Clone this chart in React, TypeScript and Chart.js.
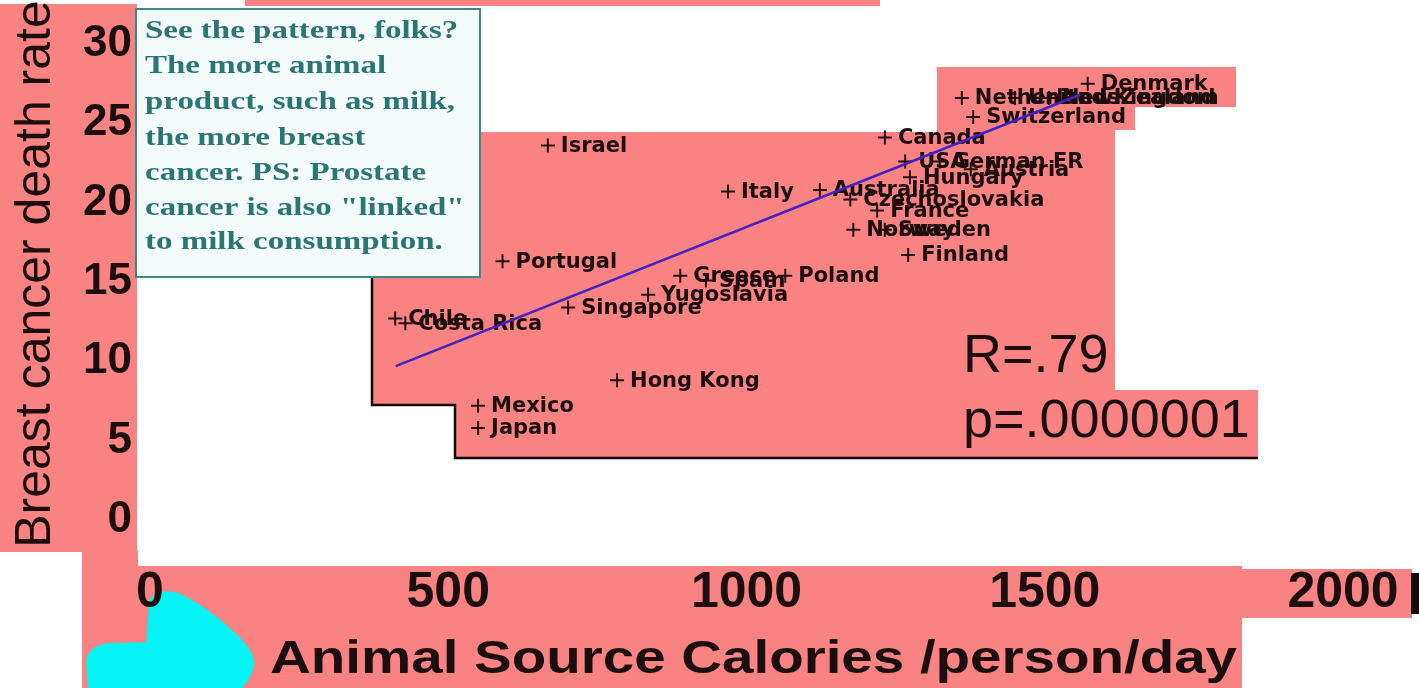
import React, { useEffect, useRef } from 'react';
import { Chart, registerables } from 'chart.js';

Chart.register(...registerables);

// ---------- data ----------
const countries = [
  'Israel', 'Italy', 'Portugal', 'Chile', 'Costa Rica', 'Singapore', 'Yugoslavia',
  'Greece', 'Spain', 'Poland', 'Hong Kong', 'Mexico', 'Japan', 'Canada', 'Australia',
  'Czechoslovakia', 'France', 'Norway', 'Sweden', 'Finland', 'Hungary', 'USA',
  'German FR', 'Austria', 'Netherlands', 'United Kingdom', 'New Zealand', 'Switzerland', 'Denmark',
];
const calories = [
  667, 969, 591, 411, 428, 701, 835,
  889, 932, 1065, 783, 550, 550, 1232, 1123,
  1174, 1219, 1179, 1232, 1271, 1274, 1266,
  1324, 1376, 1361, 1450, 1507, 1380, 1572,
];
const deathRates = [
  23.6, 20.7, 16.3, 12.7, 12.4, 13.4, 14.2,
  15.4, 15.1, 15.4, 8.8, 7.2, 5.8, 24.1, 20.8,
  20.2, 19.5, 18.3, 18.3, 16.7, 21.6, 22.6,
  22.6, 22.1, 26.6, 26.6, 26.6, 25.4, 27.5,
];
const trendX = [412, 1559];
const trendY = [9.7, 26.8];
const xTicks = [0, 500, 1000, 1500, 2000];
const yTicks = [0, 5, 10, 15, 20, 25, 30];
const xTitle = 'Animal Source Calories /person/day';
const yTitle = 'Breast cancer death rate';
const statLines = ['R=.79', 'p=.0000001'];
const noteLines = [
  'See the pattern, folks?',
  'The more animal',
  'product, such as milk,',
  'the more breast',
  'cancer. PS: Prostate',
  'cancer is also "linked"',
  'to milk consumption.',
];

// ---------- styles ----------
const PINK = '#F98383';
const INK = '#1c0e0e';
const SANS = "'Liberation Sans', Arial, sans-serif";

const decorPlugin = {
  id: 'decor',
  beforeDraw(chart: any) {
    const ctx = chart.ctx as CanvasRenderingContext2D;
    ctx.save();
    ctx.fillStyle = '#ffffff';
    ctx.fillRect(0, 0, chart.width, chart.height);
    ctx.fillStyle = PINK;
    ctx.fillRect(0, 4, 137, 548);
    ctx.fillRect(82, 550, 56, 138);
    ctx.fillRect(137, 566, 1105, 122);
    ctx.fillRect(1242, 569, 170, 49);
    ctx.fillRect(245, 0, 635, 6);
    const poly = [
      [372, 132], [937, 132], [937, 67], [1236, 67], [1236, 107], [1135, 107],
      [1135, 130], [1115, 130], [1115, 390], [1258, 390], [1258, 458],
      [455, 458], [455, 405], [372, 405],
    ];
    ctx.beginPath();
    poly.forEach(([x, y], i) => (i ? ctx.lineTo(x, y) : ctx.moveTo(x, y)));
    ctx.closePath();
    ctx.fill();
    // dark frame edges
    ctx.strokeStyle = '#140808';
    ctx.lineWidth = 2.5;
    ctx.beginPath();
    ctx.moveTo(372, 277);
    ctx.lineTo(372, 405);
    ctx.lineTo(455, 405);
    ctx.lineTo(455, 458);
    ctx.lineTo(1258, 458);
    ctx.stroke();
    ctx.fillStyle = '#140808';
    ctx.fillRect(1411, 573, 8, 41);
    // cyan pointer blob
    ctx.fillStyle = '#05F4F4';
    ctx.strokeStyle = '#05F4F4';
    ctx.lineJoin = 'round';
    ctx.lineWidth = 8;
    ctx.beginPath();
    ctx.moveTo(153, 602);
    ctx.quadraticCurveTo(160, 592, 178, 597);
    ctx.quadraticCurveTo(205, 610, 228, 632);
    ctx.quadraticCurveTo(252, 652, 250, 666);
    ctx.quadraticCurveTo(246, 680, 236, 688);
    ctx.lineTo(92, 688);
    ctx.lineTo(90, 662);
    ctx.quadraticCurveTo(92, 648, 112, 647);
    ctx.lineTo(150, 646);
    ctx.closePath();
    ctx.fill();
    ctx.stroke();
    ctx.restore();
  },
  afterDatasetDraw(chart: any, args: any) {
    if (args.index !== 1) return;
    const ctx = chart.ctx as CanvasRenderingContext2D;
    const meta = chart.getDatasetMeta(1);
    ctx.save();
    ctx.font = "bold 21px 'DejaVu Sans', sans-serif";
    ctx.fillStyle = INK;
    ctx.textBaseline = 'middle';
    ctx.textAlign = 'left';
    meta.data.forEach((pt: any, i: number) => {
      ctx.fillText(countries[i], pt.x + 13, pt.y + 1);
    });
    ctx.restore();
  },
  afterDraw(chart: any) {
    const ctx = chart.ctx as CanvasRenderingContext2D;
    ctx.save();
    // stats
    ctx.fillStyle = INK;
    ctx.font = `54px ${SANS}`;
    ctx.textBaseline = 'alphabetic';
    ctx.fillText(statLines[0], 963, 372);
    ctx.fillText(statLines[1], 963, 437);
    // x title
    ctx.font = `bold 46px ${SANS}`;
    const w = ctx.measureText(xTitle).width;
    ctx.save();
    ctx.translate(270, 673);
    ctx.scale(967 / w, 1);
    ctx.fillText(xTitle, 0, 0);
    ctx.restore();
    // y title
    ctx.save();
    ctx.font = `50px ${SANS}`;
    ctx.translate(50, 274);
    ctx.rotate(-Math.PI / 2);
    ctx.textAlign = 'center';
    ctx.fillText(yTitle, 0, 0);
    ctx.restore();
    // annotation box
    ctx.fillStyle = '#F3FBFB';
    ctx.fillRect(136, 9, 344, 268);
    ctx.strokeStyle = '#3F8787';
    ctx.lineWidth = 2;
    ctx.strokeRect(136, 9, 344, 268);
    ctx.fillStyle = '#2B7575';
    ctx.font = "bold 26px 'Liberation Serif', 'DejaVu Serif', serif";
    const ref = ctx.measureText(noteLines[2]).width;
    const sx = 310 / ref;
    const ys = [31, 66, 102, 138, 173, 208, 242];
    ctx.textBaseline = 'middle';
    noteLines.forEach((t, i) => {
      ctx.save();
      ctx.translate(145, ys[i]);
      ctx.scale(sx, 1);
      ctx.fillText(t, 0, 0);
      ctx.restore();
    });
    ctx.restore();
  },
};

export default function App() {
  const ref = useRef<HTMLCanvasElement>(null);
  useEffect(() => {
    const chart = new Chart(ref.current as HTMLCanvasElement, {
      type: 'scatter',
      data: {
        datasets: [
          {
            type: 'line',
            data: trendX.map((x, i) => ({ x, y: trendY[i] })),
            borderColor: '#4322C0',
            borderWidth: 2.5,
            pointRadius: 0,
            showLine: true,
            fill: false,
            clip: false,
          } as any,
          {
            data: countries.map((_, i) => ({ x: calories[i], y: deathRates[i] })),
            pointStyle: 'cross',
            pointRadius: 7,
            borderColor: '#221010',
            borderWidth: 2,
            backgroundColor: '#221010',
            clip: false,
          } as any,
        ],
      },
      options: {
        animation: false,
        responsive: false,
        layout: { padding: { top: 44, right: 76, left: 0, bottom: 0 } },
        plugins: { legend: { display: false }, tooltip: { enabled: false } },
        scales: {
          x: {
            type: 'linear',
            min: 0,
            max: 2000,
            grid: { display: false, drawTicks: false },
            border: { display: false },
            afterFit: (s: any) => {
              s.height = 168;
              s.paddingLeft = 0;
              s.paddingRight = 0;
            },
            afterBuildTicks: (s: any) => { s.ticks = xTicks.map((v) => ({ value: v })); },
            ticks: {
              font: { family: SANS, size: 50, weight: 'bold' },
              color: INK,
              padding: 43,
              maxRotation: 0,
              autoSkip: false,
              callback: (v: any) => String(v),
            },
          },
          y: {
            type: 'linear',
            min: 0,
            max: 30,
            grid: { display: false, drawTicks: false },
            border: { display: false },
            afterFit: (s: any) => {
              s.width = 150;
              s.paddingTop = 0;
              s.paddingBottom = 0;
            },
            afterBuildTicks: (s: any) => { s.ticks = yTicks.map((v) => ({ value: v })); },
            ticks: {
              font: { family: SANS, size: 44, weight: 'bold' },
              color: INK,
              padding: 18,
              autoSkip: false,
              callback: (v: any) => String(v),
            },
          },
        },
      } as any,
      plugins: [decorPlugin],
    });
    return () => chart.destroy();
  }, []);
  return (
    <div style={{ position: 'fixed', left: 0, top: 0, width: 1419, height: 688 }}>
      <canvas ref={ref} width={1419} height={688} style={{ display: 'block' }} />
    </div>
  );
}
